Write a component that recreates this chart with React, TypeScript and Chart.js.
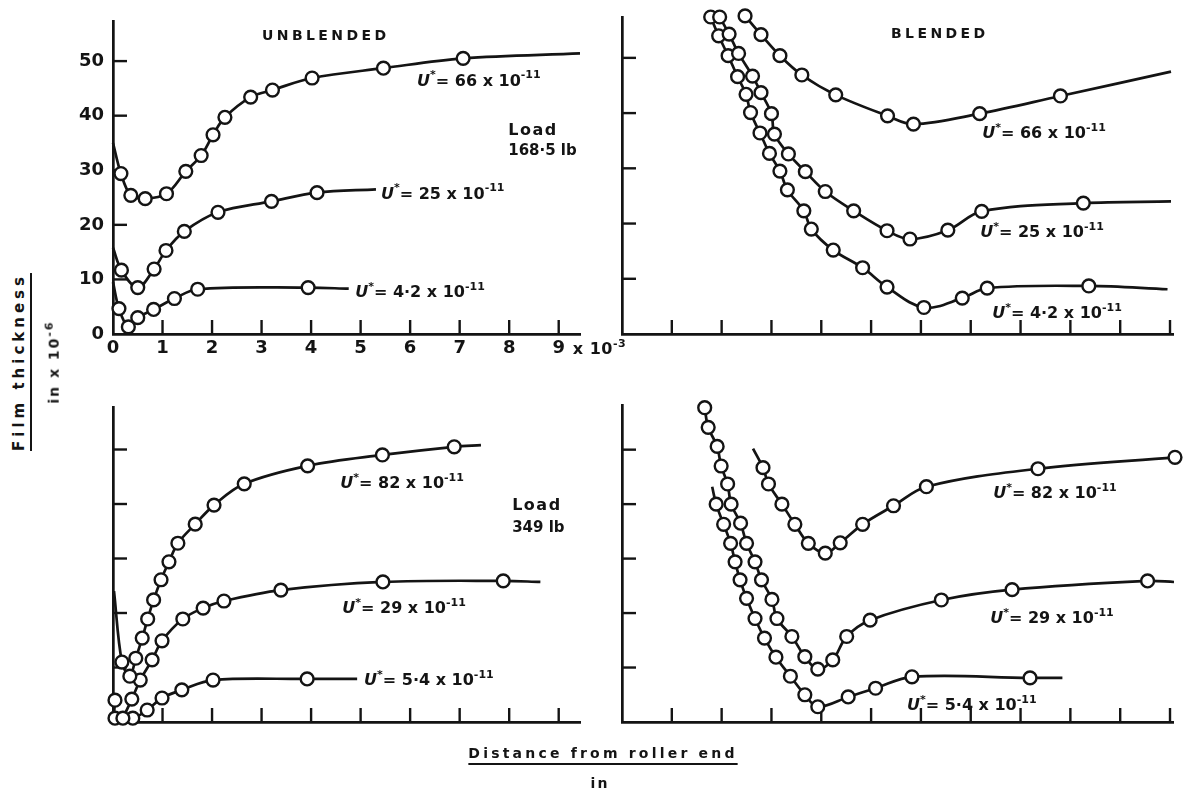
import React, { useEffect, useRef } from 'react';
import { Chart, registerables } from 'chart.js';

Chart.register(...registerables);

const FONT = '"DejaVu Sans", "Liberation Sans", sans-serif';
const INK = '#141414';
const WEIGHT = 'bold';

// ---------- tick values ----------
const unblendedXTicks = [0, 1, 2, 3, 4, 5, 6, 7, 8, 9];
const blendedXTicks = [0, 1, 2, 3, 4, 5, 6, 7, 8, 9, 10, 11];
const thicknessTicks = [0, 10, 20, 30, 40, 50];

// ---------- Unblended, load 168.5 lb ----------
const ub168_u66_x = [0.16, 0.36, 0.65, 1.08, 1.47, 1.78, 2.02, 2.26, 2.78, 3.22, 4.02, 5.46, 7.07];
const ub168_u66_y = [29.4, 25.4, 24.8, 25.7, 29.8, 32.7, 36.5, 39.7, 43.4, 44.7, 46.9, 48.7, 50.5];
const ub168_u66_start = [0.0, 35];
const ub168_u66_end = [9.43, 51.4];

const ub168_u25_x = [0.17, 0.5, 0.83, 1.07, 1.44, 2.12, 3.2, 4.12];
const ub168_u25_y = [11.7, 8.5, 11.9, 15.3, 18.8, 22.3, 24.3, 25.9];
const ub168_u25_start = [0.0, 15.8];
const ub168_u25_end = [5.31, 26.5];

const ub168_u42_x = [0.12, 0.31, 0.5, 0.82, 1.24, 1.71, 3.94];
const ub168_u42_y = [4.65, 1.3, 3.0, 4.5, 6.5, 8.2, 8.5];
const ub168_u42_start = [0.0, 9.5];
const ub168_u42_end = [4.76, 8.3];

// ---------- Blended, load 168.5 lb ----------
const bl168_u66_x = [2.47, 2.79, 3.17, 3.61, 4.29, 5.33, 5.85, 7.18, 8.8];
const bl168_u66_y = [57.6, 54.2, 50.4, 46.9, 43.3, 39.5, 38.0, 39.9, 43.1];
const bl168_u66_end = [11.02, 47.5];

const bl168_u25_x = [1.96, 2.15, 2.34, 2.62, 2.79, 3.0, 3.06, 3.34, 3.68, 4.08, 4.65, 5.32, 5.78, 6.54, 7.22, 9.26];
const bl168_u25_y = [57.4, 54.3, 50.8, 46.7, 43.7, 39.9, 36.2, 32.6, 29.4, 25.8, 22.3, 18.7, 17.2, 18.8, 22.2, 23.7];
const bl168_u25_end = [11.02, 24.0];

const bl168_u42_x = [1.78, 1.94, 2.13, 2.32, 2.49, 2.58, 2.77, 2.96, 3.17, 3.32, 3.65, 3.8, 4.24, 4.83, 5.32, 6.06, 6.83, 7.33, 9.37];
const bl168_u42_y = [57.4, 54.0, 50.4, 46.6, 43.4, 40.1, 36.4, 32.7, 29.5, 26.1, 22.3, 19.0, 15.2, 12.0, 8.5, 4.8, 6.5, 8.3, 8.7];
const bl168_u42_end = [10.95, 8.1];

// ---------- Unblended, load 349 lb ----------
const ub349_u82_x = [0.18, 0.34, 0.46, 0.59, 0.7, 0.82, 0.97, 1.13, 1.31, 1.66, 2.04, 2.65, 3.93, 5.44, 6.89];
const ub349_u82_y = [11.0, 8.4, 11.7, 15.4, 18.9, 22.4, 26.1, 29.4, 32.8, 36.3, 39.8, 43.7, 47.0, 49.0, 50.5];
const ub349_u82_start = [0.02, 24.0];
const ub349_u82_end = [7.43, 50.8];

const ub349_u29_x = [0.2, 0.38, 0.55, 0.79, 0.99, 1.41, 1.82, 2.24, 3.39, 5.45, 7.88];
const ub349_u29_y = [0.7, 4.2, 7.7, 11.4, 14.9, 18.9, 20.9, 22.2, 24.2, 25.7, 25.9];
const ub349_u29_end = [8.63, 25.7];

const ub349_u54_x = [0.04, 0.04, 0.4, 0.69, 0.99, 1.39, 2.02, 3.92];
const ub349_u54_y = [4.0, 0.7, 0.7, 2.2, 4.4, 5.9, 7.7, 7.9];
const ub349_u54_end = [4.93, 7.9];

// ---------- Blended, load 349 lb ----------
const bl349_u82_x = [2.83, 2.94, 3.21, 3.47, 3.74, 4.08, 4.38, 4.83, 5.45, 6.11, 8.35, 11.1];
const bl349_u82_y = [46.7, 43.7, 40.0, 36.3, 32.8, 31.0, 32.9, 36.3, 39.7, 43.2, 46.5, 48.6];
const bl349_u82_start = [2.63, 50.2];

const bl349_u29_x = [1.66, 1.73, 1.91, 1.99, 2.12, 2.19, 2.38, 2.5, 2.67, 2.8, 3.01, 3.11, 3.41, 3.67, 3.93, 4.23, 4.51, 4.98, 6.41, 7.83, 10.55];
const bl349_u29_y = [57.7, 54.1, 50.6, 47.0, 43.7, 40.0, 36.5, 32.8, 29.4, 26.1, 22.5, 19.0, 15.7, 12.0, 9.7, 11.4, 15.7, 18.7, 22.4, 24.3, 25.9];
const bl349_u29_end = [11.08, 25.7];

const bl349_u54_x = [1.89, 2.04, 2.18, 2.27, 2.37, 2.5, 2.67, 2.86, 3.09, 3.38, 3.67, 3.93, 4.54, 5.09, 5.82, 8.19];
const bl349_u54_y = [40.0, 36.3, 32.8, 29.4, 26.1, 22.7, 19.0, 15.4, 11.9, 8.4, 5.0, 2.8, 4.6, 6.2, 8.3, 8.1];
const bl349_u54_start = [1.81, 43.2];
const bl349_u54_end = [8.84, 8.1];

// ---------- text ----------
const speedLabels168 = ['66', '25', '4·2'];
const speedLabels349 = ['82', '29', '5·4'];

type Part = { t: string; sup?: boolean; it?: boolean };
type Note = { x: number; y: number; parts: Part[]; size: number; spacing?: number };
type Series = { x: number[]; y: number[]; start?: number[]; end?: number[] };

const uLabel = (v: string): Part[] => [
  { t: 'U', it: true },
  { t: '*', sup: true },
  { t: '= ' + v + ' x 10' },
  { t: '-11', sup: true },
];

function drawParts(ctx: CanvasRenderingContext2D, parts: Part[], x: number, y: number, size: number, spacing = 0) {
  let cx = x;
  for (const p of parts) {
    const fs = p.sup ? Math.round(size * 0.7) : size;
    ctx.font = `${p.it ? 'italic ' : ''}${WEIGHT} ${fs}px ${FONT}`;
    const dy = p.sup ? -size * 0.45 : 0;
    for (const ch of p.t) {
      ctx.fillText(ch, cx, y + dy);
      cx += ctx.measureText(ch).width + spacing;
    }
  }
}

function buildDataset(s: Series) {
  const pts: { x: number; y: number }[] = [];
  const radius: number[] = [];
  if (s.start) { pts.push({ x: s.start[0], y: s.start[1] }); radius.push(0); }
  s.x.forEach((xv, i) => { pts.push({ x: xv, y: s.y[i] }); radius.push(6.4); });
  if (s.end) { pts.push({ x: s.end[0], y: s.end[1] }); radius.push(0); }
  return {
    data: pts,
    showLine: true,
    tension: 0.35,
    borderColor: INK,
    borderWidth: 2.7,
    pointRadius: radius,
    pointHoverRadius: radius,
    pointBorderColor: INK,
    pointBackgroundColor: '#ffffff',
    pointBorderWidth: 2.4,
    clip: false as any,
  };
}

type PanelCfg = {
  key: string;
  area: { l: number; t: number; r: number; b: number };
  padRight: number;
  xTicks: number[];
  xMax: number;
  yMax: number;
  showLabels: boolean;
  series: Series[];
  notes: Note[];
};

const PAD_TOP = 16;
const Y_W = 60;
const X_H = 32;

function Panel({ cfg }: { cfg: PanelCfg }) {
  const ref = useRef<HTMLCanvasElement>(null);
  const width = Y_W + (cfg.area.r - cfg.area.l) + cfg.padRight;
  const height = PAD_TOP + (cfg.area.b - cfg.area.t) + X_H;

  useEffect(() => {
    if (!ref.current) return;
    const marks = {
      id: 'marks_' + cfg.key,
      beforeDatasetsDraw(chart: any) {
        const ctx = chart.ctx as CanvasRenderingContext2D;
        const { left, bottom } = chart.chartArea;
        const xs = chart.scales.x;
        const ys = chart.scales.y;
        ctx.save();
        ctx.strokeStyle = INK;
        ctx.lineWidth = 2.4;
        for (const t of xs.ticks) {
          if (t.value === 0) continue;
          const px = xs.getPixelForValue(t.value);
          ctx.beginPath();
          ctx.moveTo(px, bottom);
          ctx.lineTo(px, bottom - 14);
          ctx.stroke();
        }
        for (const t of ys.ticks) {
          if (t.value === 0) continue;
          const py = ys.getPixelForValue(t.value);
          ctx.beginPath();
          ctx.moveTo(left, py);
          ctx.lineTo(left + 14, py);
          ctx.stroke();
        }
        ctx.restore();
      },
      afterDraw(chart: any) {
        const ctx = chart.ctx as CanvasRenderingContext2D;
        const xs = chart.scales.x;
        const ys = chart.scales.y;
        ctx.save();
        ctx.fillStyle = INK;
        ctx.textBaseline = 'alphabetic';
        ctx.textAlign = 'left';
        for (const n of cfg.notes) {
          drawParts(ctx, n.parts, xs.getPixelForValue(n.x), ys.getPixelForValue(n.y), n.size, n.spacing || 0);
        }
        if (cfg.showLabels) {
          const last = cfg.xTicks[cfg.xTicks.length - 1];
          const px = xs.getPixelForValue(last) + 8;
          drawParts(ctx, [{ t: ' x 10' }, { t: '-3', sup: true }], px, chart.chartArea.bottom + 20, 16, 0.5);
        }
        ctx.restore();
      },
    };

    const tickFont = { family: FONT, size: 18, weight: WEIGHT as any };
    const chart = new Chart(ref.current, {
      type: 'scatter',
      data: { datasets: cfg.series.map(buildDataset) as any },
      options: {
        animation: false,
        responsive: false,
        events: [],
        layout: { padding: { top: PAD_TOP, right: cfg.padRight, left: 0, bottom: 0 } },
        plugins: { legend: { display: false }, tooltip: { enabled: false } },
        scales: {
          x: {
            type: 'linear',
            min: 0,
            max: cfg.xMax,
            afterBuildTicks: (s: any) => { s.ticks = cfg.xTicks.map((v) => ({ value: v })); },
            afterFit: (s: any) => { s.height = X_H; },
            grid: { display: false, drawTicks: false },
            border: { display: true, color: INK, width: 2.7 },
            ticks: { display: cfg.showLabels, padding: 4, color: INK, font: tickFont, maxRotation: 0, autoSkip: false },
          },
          y: {
            type: 'linear',
            min: 0,
            max: cfg.yMax,
            afterBuildTicks: (s: any) => { s.ticks = thicknessTicks.map((v) => ({ value: v })); },
            afterFit: (s: any) => { s.width = Y_W; },
            grid: { display: false, drawTicks: false },
            border: { display: true, color: INK, width: 2.7 },
            ticks: { display: cfg.showLabels, padding: 9, color: INK, font: tickFont, autoSkip: false },
          },
        },
      },
      plugins: [marks as any],
    });
    return () => chart.destroy();
  }, []);

  return (
    <canvas
      ref={ref}
      width={width}
      height={height}
      style={{ position: 'absolute', left: cfg.area.l - Y_W, top: cfg.area.t - PAD_TOP, width, height }}
    />
  );
}

export default function App() {
  const panels: PanelCfg[] = [
    {
      key: 'ub168',
      area: { l: 113, t: 18, r: 580, b: 334 },
      padRight: 45,
      xTicks: unblendedXTicks,
      xMax: 9.43,
      yMax: 57.2,
      showLabels: true,
      series: [
        { x: ub168_u66_x, y: ub168_u66_y, start: ub168_u66_start, end: ub168_u66_end },
        { x: ub168_u25_x, y: ub168_u25_y, start: ub168_u25_start, end: ub168_u25_end },
        { x: ub168_u42_x, y: ub168_u42_y, start: ub168_u42_start, end: ub168_u42_end },
      ],
      notes: [
        { x: 3.01, y: 53.8, parts: [{ t: 'UNBLENDED' }], size: 14, spacing: 3.4 },
        { x: 6.14, y: 45.5, parts: uLabel(speedLabels168[0]), size: 16 },
        { x: 5.41, y: 24.8, parts: uLabel(speedLabels168[1]), size: 16 },
        { x: 4.89, y: 6.7, parts: uLabel(speedLabels168[2]), size: 16 },
        { x: 7.98, y: 36.4, parts: [{ t: 'Load' }], size: 16, spacing: 1.5 },
        { x: 7.98, y: 32.8, parts: [{ t: '168·5 lb' }], size: 15, spacing: 0 },
      ],
    },
    {
      key: 'bl168',
      area: { l: 622, t: 17, r: 1173, b: 334 },
      padRight: 20,
      xTicks: blendedXTicks,
      xMax: 11.06,
      yMax: 57.4,
      showLabels: false,
      series: [
        { x: bl168_u66_x, y: bl168_u66_y, end: bl168_u66_end },
        { x: bl168_u25_x, y: bl168_u25_y, end: bl168_u25_end },
        { x: bl168_u42_x, y: bl168_u42_y, end: bl168_u42_end },
      ],
      notes: [
        { x: 5.4, y: 53.6, parts: [{ t: 'BLENDED' }], size: 14, spacing: 3.4 },
        { x: 7.23, y: 35.5, parts: uLabel(speedLabels168[0]), size: 16 },
        { x: 7.19, y: 17.6, parts: uLabel(speedLabels168[1]), size: 16 },
        { x: 7.43, y: 2.9, parts: uLabel(speedLabels168[2]), size: 16 },
      ],
    },
    {
      key: 'ub349',
      area: { l: 113, t: 407, r: 580, b: 722 },
      padRight: 20,
      xTicks: unblendedXTicks,
      xMax: 9.43,
      yMax: 57.8,
      showLabels: false,
      series: [
        { x: ub349_u82_x, y: ub349_u82_y, start: ub349_u82_start, end: ub349_u82_end },
        { x: ub349_u29_x, y: ub349_u29_y, end: ub349_u29_end },
        { x: ub349_u54_x, y: ub349_u54_y, end: ub349_u54_end },
      ],
      notes: [
        { x: 4.59, y: 42.9, parts: uLabel(speedLabels349[0]), size: 16 },
        { x: 4.63, y: 20.0, parts: uLabel(speedLabels349[1]), size: 16 },
        { x: 5.07, y: 6.8, parts: uLabel(speedLabels349[2]), size: 16 },
        { x: 8.06, y: 38.9, parts: [{ t: 'Load' }], size: 16, spacing: 1.5 },
        { x: 8.06, y: 34.9, parts: [{ t: '349 lb' }], size: 15, spacing: 0 },
      ],
    },
    {
      key: 'bl349',
      area: { l: 622, t: 405, r: 1173, b: 722 },
      padRight: 20,
      xTicks: blendedXTicks,
      xMax: 11.06,
      yMax: 58.2,
      showLabels: false,
      series: [
        { x: bl349_u82_x, y: bl349_u82_y, start: bl349_u82_start },
        { x: bl349_u29_x, y: bl349_u29_y, end: bl349_u29_end },
        { x: bl349_u54_x, y: bl349_u54_y, start: bl349_u54_start, end: bl349_u54_end },
      ],
      notes: [
        { x: 7.45, y: 41.1, parts: uLabel(speedLabels349[0]), size: 16 },
        { x: 7.39, y: 18.2, parts: uLabel(speedLabels349[1]), size: 16 },
        { x: 5.72, y: 2.2, parts: uLabel(speedLabels349[2]), size: 16 },
      ],
    },
  ];

  const txt: React.CSSProperties = { position: 'absolute', whiteSpace: 'nowrap', color: INK, fontFamily: FONT, fontWeight: 'bold' };

  return (
    <div style={{ position: 'fixed', left: 0, top: 0, width: 1197, height: 793, background: '#fff', overflow: 'hidden' }}>
      {panels.map((p) => (
        <Panel key={p.key} cfg={p} />
      ))}
      <div
        style={{
          ...txt,
          left: 19,
          top: 362,
          fontSize: 15,
          letterSpacing: '4px',
          textDecoration: 'underline',
          textUnderlineOffset: '6px',
          textDecorationThickness: '2px',
          transform: 'translate(-50%, -50%) rotate(-90deg)',
        }}
      >
        Film thickness
      </div>
      <div
        style={{
          ...txt,
          left: 52,
          top: 362,
          fontSize: 14,
          letterSpacing: '2px',
          transform: 'translate(-50%, -50%) rotate(-90deg)',
        }}
      >
        in x 10<sup style={{ fontSize: 11 }}>-6</sup>
      </div>
      <div
        style={{
          ...txt,
          left: 603,
          top: 753,
          fontSize: 14,
          letterSpacing: '3.2px',
          textDecoration: 'underline',
          textUnderlineOffset: '5px',
          textDecorationThickness: '2px',
          transform: 'translate(-50%, -50%)',
        }}
      >
        Distance from roller end
      </div>
      <div style={{ ...txt, left: 600, top: 783, fontSize: 14, letterSpacing: '2px', transform: 'translate(-50%, -50%)' }}>in</div>
    </div>
  );
}
